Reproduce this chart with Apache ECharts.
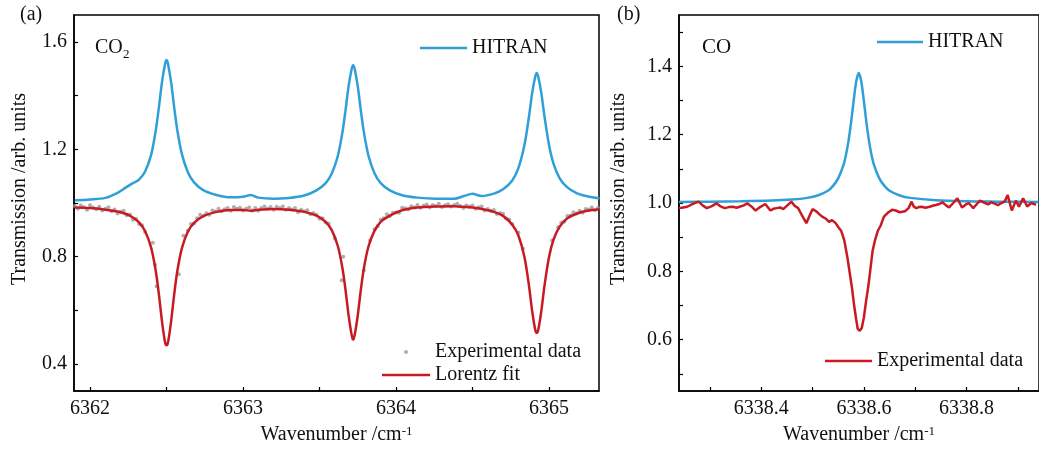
<!DOCTYPE html>
<html>
<head>
<meta charset="utf-8">
<script src="https://cdn.jsdelivr.net/npm/echarts@6/dist/echarts.min.js"></script>
<style>
  html, body { margin: 0; padding: 0; background: #fff; }
  #main { width: 1039px; height: 452px; }
</style>
</head>
<body>
<div id="main"></div>
<script>
// (a) CO2 —— HITRAN 与 Lorentz 拟合共用一组波数
var co2Wave = [6361.90, 6362.00, 6362.10, 6362.18, 6362.24, 6362.28, 6362.32, 6362.36, 6362.40, 6362.43,
  6362.45, 6362.47, 6362.49, 6362.50, 6362.51, 6362.53, 6362.55, 6362.57, 6362.60, 6362.64,
  6362.68, 6362.74, 6362.82, 6362.92, 6363.00, 6363.05, 6363.10, 6363.20, 6363.30, 6363.40,
  6363.48, 6363.54, 6363.58, 6363.62, 6363.65, 6363.67, 6363.69, 6363.71, 6363.72, 6363.73,
  6363.75, 6363.77, 6363.79, 6363.82, 6363.86, 6363.90, 6363.96, 6364.04, 6364.14, 6364.26,
  6364.38, 6364.44, 6364.50, 6364.56, 6364.64, 6364.70, 6364.76, 6364.80, 6364.84, 6364.87,
  6364.89, 6364.91, 6364.92, 6364.93, 6364.95, 6364.97, 6365.00, 6365.03, 6365.07, 6365.12,
  6365.18, 6365.25, 6365.33];
var co2Hitran = [1.010, 1.013, 1.019, 1.038, 1.060, 1.074, 1.087, 1.117, 1.181, 1.272,
  1.356, 1.449, 1.517, 1.532, 1.517, 1.449, 1.356, 1.272, 1.183, 1.114,
  1.077, 1.048, 1.031, 1.021, 1.023, 1.030, 1.020, 1.016, 1.019, 1.028,
  1.047, 1.074, 1.110, 1.176, 1.264, 1.345, 1.434, 1.499, 1.513, 1.499,
  1.434, 1.345, 1.264, 1.176, 1.110, 1.074, 1.047, 1.029, 1.020, 1.016,
  1.016, 1.025, 1.034, 1.026, 1.035, 1.051, 1.084, 1.130, 1.217, 1.325,
  1.409, 1.470, 1.484, 1.470, 1.409, 1.325, 1.217, 1.146, 1.092, 1.058,
  1.037, 1.025, 1.017];
var co2Fit = [0.983, 0.981, 0.975, 0.968, 0.958, 0.946, 0.928, 0.895, 0.832, 0.745,
  0.660, 0.560, 0.482, 0.470, 0.482, 0.560, 0.660, 0.745, 0.831, 0.894,
  0.926, 0.951, 0.966, 0.974, 0.974, 0.971, 0.975, 0.978, 0.975, 0.967,
  0.953, 0.930, 0.899, 0.839, 0.757, 0.676, 0.582, 0.509, 0.492, 0.509,
  0.582, 0.676, 0.757, 0.838, 0.897, 0.930, 0.953, 0.973, 0.983, 0.987,
  0.988, 0.986, 0.983, 0.978, 0.967, 0.952, 0.919, 0.879, 0.798, 0.689,
  0.598, 0.528, 0.517, 0.528, 0.598, 0.689, 0.798, 0.864, 0.912, 0.943,
  0.960, 0.971, 0.977];

// (a) 实验数据点
var co2ExpWave = [6361.90, 6361.92, 6361.94, 6361.96, 6361.98, 6362.00, 6362.02, 6362.04, 6362.06, 6362.08,
  6362.10, 6362.12, 6362.14, 6362.16, 6362.18, 6362.20, 6362.22, 6362.24, 6362.26, 6362.28,
  6362.30, 6362.32, 6362.34, 6362.36,
  6362.41, 6362.425, 6362.435, 6362.50, 6362.58, 6362.61,
  6362.64, 6362.66, 6362.68, 6362.70, 6362.72, 6362.74, 6362.76, 6362.78, 6362.80, 6362.82,
  6362.84, 6362.86, 6362.88, 6362.90, 6362.92, 6362.94, 6362.96, 6362.98, 6363.00, 6363.02,
  6363.04, 6363.06, 6363.08, 6363.10, 6363.12, 6363.14, 6363.16, 6363.18, 6363.20, 6363.22,
  6363.24, 6363.26, 6363.28, 6363.30, 6363.32, 6363.34, 6363.36, 6363.38, 6363.40, 6363.42,
  6363.44, 6363.46, 6363.48, 6363.50, 6363.52, 6363.54, 6363.56,
  6363.60, 6363.645, 6363.655, 6363.72, 6363.79, 6363.83,
  6363.86, 6363.88, 6363.90, 6363.92, 6363.94, 6363.96, 6363.98, 6364.00, 6364.02, 6364.04,
  6364.06, 6364.08, 6364.10, 6364.12, 6364.14, 6364.16, 6364.18, 6364.20, 6364.22, 6364.24,
  6364.26, 6364.28, 6364.30, 6364.32, 6364.34, 6364.36, 6364.38, 6364.40, 6364.42, 6364.44,
  6364.46, 6364.48, 6364.50, 6364.52, 6364.54, 6364.56, 6364.58, 6364.60, 6364.62, 6364.64,
  6364.66, 6364.68, 6364.70, 6364.72, 6364.74, 6364.76,
  6364.80, 6364.83, 6364.92, 6365.02, 6365.06,
  6365.08, 6365.10, 6365.12, 6365.14, 6365.16, 6365.18, 6365.20, 6365.22, 6365.24, 6365.26,
  6365.28, 6365.30, 6365.32];
var co2ExpTrans = [0.989, 0.979, 0.991, 0.984, 0.975, 0.992, 0.983, 0.977, 0.986, 0.972,
  0.979, 0.984, 0.969, 0.976, 0.961, 0.967, 0.971, 0.954, 0.957, 0.938,
  0.941, 0.922, 0.917, 0.892,
  0.852, 0.770, 0.690, 0.474, 0.735, 0.878,
  0.898, 0.922, 0.924, 0.943, 0.956, 0.952, 0.962, 0.956, 0.972, 0.969,
  0.979, 0.969, 0.977, 0.981, 0.971, 0.985, 0.979, 0.982, 0.972, 0.979,
  0.983, 0.972, 0.981, 0.971, 0.981, 0.987, 0.979, 0.985, 0.975, 0.986,
  0.981, 0.987, 0.975, 0.981, 0.976, 0.981, 0.966, 0.975, 0.969, 0.973,
  0.958, 0.963, 0.956, 0.941, 0.943, 0.927, 0.924,
  0.868, 0.712, 0.800, 0.495, 0.750, 0.860,
  0.902, 0.913, 0.938, 0.943, 0.958, 0.952, 0.964, 0.965, 0.964, 0.982,
  0.980, 0.976, 0.988, 0.983, 0.993, 0.982, 0.990, 0.994, 0.983, 0.993,
  0.989, 0.997, 0.985, 0.992, 0.995, 0.987, 0.993, 0.997, 0.989, 0.981,
  0.991, 0.987, 0.991, 0.979, 0.984, 0.987, 0.972, 0.978, 0.971, 0.974,
  0.959, 0.963, 0.960, 0.942, 0.939, 0.922,
  0.890, 0.830, 0.520, 0.860, 0.910,
  0.926, 0.930, 0.952, 0.953, 0.966, 0.961, 0.971, 0.964, 0.978, 0.976,
  0.983, 0.973, 0.981];

// (b) CO —— HITRAN
var coWave = [6338.24, 6338.30, 6338.36, 6338.42, 6338.46, 6338.49, 6338.51, 6338.53, 6338.54, 6338.55,
  6338.56, 6338.565, 6338.57, 6338.575, 6338.58, 6338.585, 6338.59, 6338.595, 6338.60, 6338.605,
  6338.61, 6338.615, 6338.62, 6338.63, 6338.64, 6338.65, 6338.67, 6338.69, 6338.74, 6338.80,
  6338.86, 6338.94];
var coHitran = [1.003, 1.004, 1.005, 1.007, 1.010, 1.015, 1.022, 1.036, 1.050, 1.072,
  1.110, 1.140, 1.181, 1.235, 1.298, 1.355, 1.380, 1.355, 1.298, 1.235,
  1.181, 1.140, 1.110, 1.072, 1.050, 1.036, 1.022, 1.015, 1.008, 1.005,
  1.004, 1.003];

// (b) 实验数据
var coExpWave = [6338.240, 6338.248, 6338.256, 6338.266, 6338.278, 6338.286, 6338.294, 6338.303, 6338.313, 6338.321,
  6338.329, 6338.337, 6338.345, 6338.352, 6338.358, 6338.366, 6338.373, 6338.381, 6338.389, 6338.398,
  6338.408, 6338.418, 6338.424, 6338.430, 6338.437, 6338.443, 6338.451, 6338.459, 6338.465, 6338.472,
  6338.480, 6338.488, 6338.494, 6338.500, 6338.508, 6338.514, 6338.519, 6338.526, 6338.532, 6338.538,
  6338.545, 6338.550, 6338.556, 6338.562, 6338.568, 6338.573, 6338.577, 6338.581, 6338.585, 6338.588,
  6338.592, 6338.596, 6338.600, 6338.604, 6338.609, 6338.613, 6338.617, 6338.622, 6338.627, 6338.633,
  6338.639, 6338.647, 6338.655, 6338.662, 6338.670, 6338.680, 6338.687, 6338.693, 6338.697, 6338.702,
  6338.707, 6338.712, 6338.720, 6338.728, 6338.734, 6338.740, 6338.747, 6338.753, 6338.760, 6338.766,
  6338.774, 6338.782, 6338.791, 6338.798, 6338.804, 6338.809, 6338.813, 6338.820, 6338.826, 6338.836,
  6338.842, 6338.848, 6338.855, 6338.861, 6338.868, 6338.874, 6338.880, 6338.888, 6338.896, 6338.902,
  6338.910, 6338.918, 6338.926, 6338.935];
var coExpTrans = [0.985, 0.987, 0.989, 0.997, 1.004, 0.993, 0.985, 0.990, 0.999, 0.990,
  0.985, 0.988, 0.989, 0.986, 0.989, 0.993, 0.999, 0.990, 0.978, 0.988,
  0.997, 0.978, 0.983, 0.985, 0.987, 0.982, 0.993, 1.004, 0.992, 0.985,
  0.962, 0.941, 0.962, 0.982, 0.975, 0.966, 0.960, 0.954, 0.945, 0.950,
  0.941, 0.930, 0.918, 0.890, 0.840, 0.790, 0.750, 0.700, 0.660, 0.632,
  0.626, 0.635, 0.665, 0.710, 0.760, 0.810, 0.860, 0.893, 0.918, 0.935,
  0.960, 0.972, 0.980, 0.978, 0.973, 0.976, 0.985, 1.004, 0.990, 0.985,
  0.988, 0.989, 0.986, 0.989, 0.992, 0.994, 0.997, 1.002, 0.993, 0.987,
  1.000, 1.014, 0.987, 0.995, 1.000, 0.992, 0.985, 0.997, 1.007, 1.000,
  0.996, 1.002, 0.998, 0.994, 1.000, 1.004, 1.023, 0.978, 1.007, 0.989,
  1.014, 0.990, 1.000, 0.995];

// 刻度
var co2XLabels = [6362, 6363, 6364, 6365];
var co2XTicks = [6362, 6362.5, 6363, 6363.5, 6364, 6364.5, 6365];
var co2YLabels = [0.4, 0.8, 1.2, 1.6];
var co2YTicks = [0.4, 0.6, 0.8, 1.0, 1.2, 1.4, 1.6];
var coXLabels = [6338.4, 6338.6, 6338.8];
var coXTicks = [6338.3, 6338.4, 6338.5, 6338.6, 6338.7, 6338.8, 6338.9];
var coYLabels = [0.6, 0.8, 1.0, 1.2, 1.4];
var coYTicks = [0.5, 0.6, 0.7, 0.8, 0.9, 1.0, 1.1, 1.2, 1.3, 1.4, 1.5];

var legendText = {
  co2Hitran: 'HITRAN',
  co2Exp: 'Experimental data',
  co2Fit: 'Lorentz fit',
  coHitran: 'HITRAN',
  coExp: 'Experimental data'
};

var FONT = '"Liberation Serif", "Times New Roman", serif';
var BLUE = '#2f9fd8';
var RED = '#c81a22';

function pairs(xs, ys) {
  return xs.map(function (x, i) { return [x, ys[i]]; });
}

function xAxisOf(gridIndex, min, max, labels, ticks) {
  return {
    gridIndex: gridIndex,
    type: 'value',
    min: min,
    max: max,
    name: '{n|Wavenumber /cm}{s|-1}',
    nameLocation: 'middle',
    nameGap: 34,
    nameTextStyle: {
      rich: {
        n: { fontFamily: FONT, fontSize: 20, color: '#111' },
        s: { fontFamily: FONT, fontSize: 13, color: '#111', verticalAlign: 'top' }
      }
    },
    axisLine: { show: true, onZero: false, lineStyle: { color: '#000', width: 1.5 } },
    axisTick: { show: true, inside: true, length: 4, customValues: ticks, lineStyle: { color: '#000', width: 1.2 } },
    axisLabel: {
      customValues: labels,
      margin: 8,
      fontFamily: FONT,
      fontSize: 20,
      color: '#111',
      formatter: function (v) { return gridIndex == 1 ? v.toFixed(1) : String(v); }
    },
    splitLine: { show: false }
  };
}

function yAxisOf(gridIndex, min, max, labels, ticks, gap) {
  return {
    gridIndex: gridIndex,
    type: 'value',
    min: min,
    max: max,
    name: 'Transmission /arb. units',
    nameLocation: 'middle',
    nameGap: gap,
    nameTextStyle: { fontFamily: FONT, fontSize: 20, color: '#111', padding: [0, 0, 0, 28] },
    axisLine: { show: true, onZero: false, lineStyle: { color: '#000', width: 1.5 } },
    axisTick: { show: true, inside: true, length: 4, customValues: ticks, lineStyle: { color: '#000', width: 1.2 } },
    axisLabel: {
      customValues: labels,
      margin: 7,
      fontFamily: FONT,
      fontSize: 20,
      color: '#111',
      formatter: function (v) { return v.toFixed(1); }
    },
    splitLine: { show: false }
  };
}

function legendOf(name, left, top, width, icon, h) {
  return {
    data: [{ name: name, icon: icon }],
    left: left,
    top: top,
    padding: 0,
    itemWidth: width,
    itemHeight: h,
    selectedMode: false,
    formatter: function (n) { return legendText[n]; },
    textStyle: { fontFamily: FONT, fontSize: 20, color: '#111', padding: [0, 0, 0, 0] }
  };
}

var chart = echarts.init(document.getElementById('main'), null, { renderer: 'canvas' });

chart.setOption({
  animation: false,
  backgroundColor: '#fff',
  grid: [
    { left: 74, top: 15, width: 525, height: 376, show: true, borderColor: '#000', borderWidth: 1.5, backgroundColor: 'transparent' },
    { left: 679, top: 15, width: 368, height: 376, show: true, borderColor: '#000', borderWidth: 1.5, backgroundColor: 'transparent' }
  ],
  xAxis: [
    xAxisOf(0, 6361.895, 6365.327, co2XLabels, co2XTicks),
    xAxisOf(1, 6338.24, 6338.941, coXLabels, coXTicks)
  ],
  yAxis: [
    yAxisOf(0, 0.3, 1.7, co2YLabels, co2YTicks, 44),
    yAxisOf(1, 0.45, 1.55, coYLabels, coYTicks, 50)
  ],
  legend: [
    legendOf('co2Hitran', 420, 38, 47, 'rect', 2.5),
    legendOf('co2Exp', 404, 342, 48, 'circle', 4),
    legendOf('co2Fit', 382, 365, 48, 'rect', 2.5),
    legendOf('coHitran', 877, 32, 46, 'rect', 2.5),
    legendOf('coExp', 825, 351, 47, 'rect', 2.5)
  ],
  graphic: [
    { type: 'text', left: 20, top: 5, style: { text: '(a)', font: '20px ' + FONT, fill: '#111' } },
    { type: 'text', left: 617, top: 5, style: { text: '(b)', font: '20px ' + FONT, fill: '#111' } },
    { type: 'text', left: 95, top: 38, style: { text: 'CO', font: '20px ' + FONT, fill: '#111' } },
    { type: 'text', left: 123, top: 48, style: { text: '2', font: '13px ' + FONT, fill: '#111' } },
    { type: 'text', left: 702, top: 37, style: { text: 'CO', font: '21px ' + FONT, fill: '#111' } }
  ],
  series: [
    {
      name: 'co2Exp', type: 'scatter', xAxisIndex: 0, yAxisIndex: 0,
      data: pairs(co2ExpWave, co2ExpTrans),
      symbolSize: 4,
      itemStyle: { color: '#9a9a9a' },
      silent: true
    },
    {
      name: 'co2Fit', type: 'line', xAxisIndex: 0, yAxisIndex: 0,
      data: pairs(co2Wave, co2Fit),
      showSymbol: false, smooth: 0.3,
      lineStyle: { color: RED, width: 2.5 },
      itemStyle: { color: RED }
    },
    {
      name: 'co2Hitran', type: 'line', xAxisIndex: 0, yAxisIndex: 0,
      data: pairs(co2Wave, co2Hitran),
      showSymbol: false, smooth: 0.3,
      lineStyle: { color: BLUE, width: 2.5 },
      itemStyle: { color: BLUE }
    },
    {
      name: 'coHitran', type: 'line', xAxisIndex: 1, yAxisIndex: 1,
      data: pairs(coWave, coHitran),
      showSymbol: false, smooth: 0.3,
      lineStyle: { color: BLUE, width: 2.5 },
      itemStyle: { color: BLUE }
    },
    {
      name: 'coExp', type: 'line', xAxisIndex: 1, yAxisIndex: 1,
      data: pairs(coExpWave, coExpTrans),
      showSymbol: false,
      lineStyle: { color: RED, width: 2.5 },
      itemStyle: { color: RED }
    }
  ]
});
</script>
</body>
</html>
